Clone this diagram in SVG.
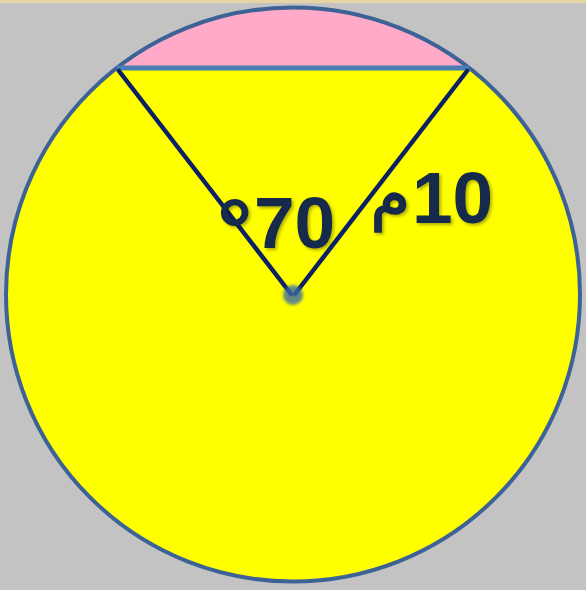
<svg xmlns="http://www.w3.org/2000/svg" width="586" height="590" viewBox="0 0 586 590">
<defs>
<style>
.num{font-family:"Liberation Sans",Arial,sans-serif;font-weight:bold;fill:#13294b;}
.ar{font-family:"DejaVu Sans",sans-serif;font-weight:normal;fill:#13294b;stroke:#13294b;stroke-width:1.5;}
.ray{stroke:#0b2163;stroke-width:4.5;stroke-linecap:round;fill:none;}
</style>
<filter id="sh" x="-20%" y="-20%" width="140%" height="140%">
<feDropShadow dx="2" dy="2" stdDeviation="1.5" flood-color="#000" flood-opacity="0.3"/>
</filter>
<filter id="blur" x="-50%" y="-50%" width="200%" height="200%">
<feGaussianBlur stdDeviation="1.5"/>
</filter>
<clipPath id="seg"><rect x="0" y="0" width="586" height="68"/></clipPath>
</defs>
<rect width="586" height="590" fill="#c3c3c3"/>
<rect width="586" height="3" fill="#e6d3a6"/>
<g id="circle">
<circle cx="293" cy="294.5" r="287" fill="#ffff00"/>
<circle cx="293" cy="294.5" r="287" fill="#ffaac8" clip-path="url(#seg)"/>
<circle cx="293" cy="294.5" r="287" fill="none" stroke="#3d6396" stroke-width="4"/>
</g>
<g id="chord">
<line x1="117" y1="68" x2="469" y2="68" stroke="#4a7db4" stroke-width="5"/>
</g>
<g id="connectors">
<line class="ray" x1="119" y1="71" x2="291" y2="294"/>
<line class="ray" x1="467" y1="71" x2="295" y2="294"/>
</g>
<g id="center">
<circle cx="293" cy="295" r="10" fill="#3d6aa3" opacity="0.8" filter="url(#blur)"/>
</g>
<g id="labels" filter="url(#sh)">
<text class="num" x="217" y="260" font-size="88">°</text>
<text class="num" x="254" y="248" font-size="73">70</text>
<text class="num" x="412" y="223" font-size="73">10</text>
<text class="ar" x="410" y="217" font-size="64" text-anchor="end">م</text>
</g>
</svg>
